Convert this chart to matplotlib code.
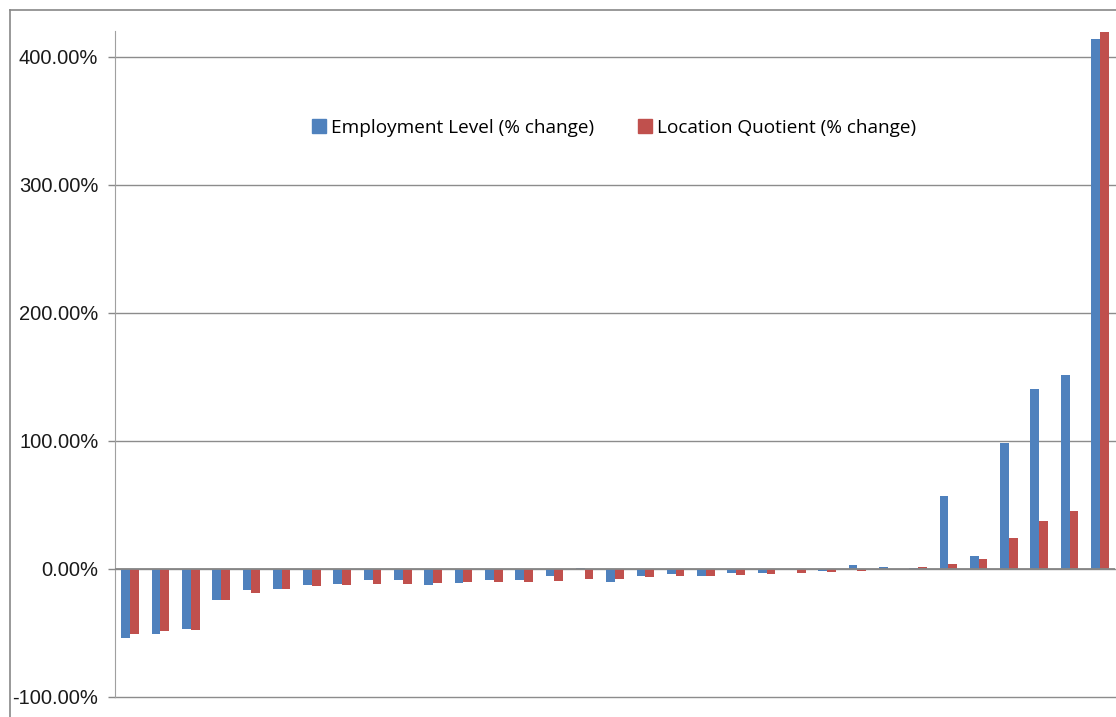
import matplotlib.pyplot as plt
from matplotlib.lines import Line2D
from matplotlib.ticker import FuncFormatter
import numpy as np

employment = [-53.6, -51.0, -46.8, -24.2, -16.1, -15.4, -12.8, -11.7, -8.6, -8.6, -12.8,
              -11.2, -8.6, -8.6, -5.7, 1.0, -9.9, -5.7, -3.7, -5.7, -2.9, -2.9,
              0.0, -1.8, 3.1, 1.8, 1.0, 56.9, 9.8, 98.5, 140.6, 151.3, 414.0]
location_q = [-51.0, -48.1, -47.3, -24.2, -18.7, -15.4, -13.5, -12.8, -12.0, -12.0, -11.2,
              -10.4, -10.4, -9.9, -9.1, -7.8, -7.8, -6.5, -5.7, -5.7, -4.4, -3.9,
              -3.1, -2.6, -1.3, 0.0, 1.8, 3.9, 7.8, 24.4, 37.1, 45.5, 419.5]
labels = ["Employment Level (% change)", "Location Quotient (% change)"]
yticks = [-100, 0, 100, 200, 300, 400]

blue = '#4F81BD'
red = '#C0504D'

fig = plt.figure(figsize=(11.16, 7.17), dpi=100)
ax = fig.add_axes([115 / 1116, 20 / 717, 1000 / 1116, 666 / 717])

x = np.arange(len(employment))
w = 0.29
ax.bar(x - w / 2, employment, w, color=blue, zorder=3)
ax.bar(x + w / 2, location_q, w, color=red, zorder=3)

ax.set_xlim(-0.5, len(employment) - 0.5)
ax.set_ylim(-100, 420)
ax.set_yticks(yticks)
ax.yaxis.set_major_formatter(FuncFormatter(lambda v, p: f"{v:.2f}%"))
ax.tick_params(axis='y', length=5, width=1, color='#888888', pad=7,
               labelsize=14.5, labelcolor='#1a1a1a')
ax.tick_params(axis='x', length=0, labelbottom=False)
for lab in ax.get_yticklabels():
    lab.set_family('Liberation Sans')

# gridlines (drawn unclipped so the -100% line shows fully)
for t in yticks:
    ax.axhline(t, color='#8c8c8c', linewidth=1, zorder=0, clip_on=False)
ax.axhline(0, color='#868686', linewidth=1.3, zorder=4)
for s in ['top', 'right', 'bottom']:
    ax.spines[s].set_visible(False)
ax.spines['left'].set_color('#a0a0a0')

handles = [Line2D([], [], marker='s', linestyle='none', markersize=10, color=blue),
           Line2D([], [], marker='s', linestyle='none', markersize=10, color=red)]
fig.legend(handles, labels, loc='center', bbox_to_anchor=(612 / 1116, 1 - 128 / 717),
           ncol=2, frameon=False, handletextpad=0.0, handlelength=1.2, columnspacing=2.1,
           prop={'family': 'Open Sans', 'size': 13.7})

# outer chart frame
fig.add_artist(Line2D([10 / 1116, 10 / 1116], [0, 1 - 10 / 717], color='#888888',
                      linewidth=1.2, transform=fig.transFigure))
fig.add_artist(Line2D([10 / 1116, 1], [1 - 10 / 717, 1 - 10 / 717], color='#888888',
                      linewidth=1.2, transform=fig.transFigure))

fig.savefig('out.png', dpi=100)
